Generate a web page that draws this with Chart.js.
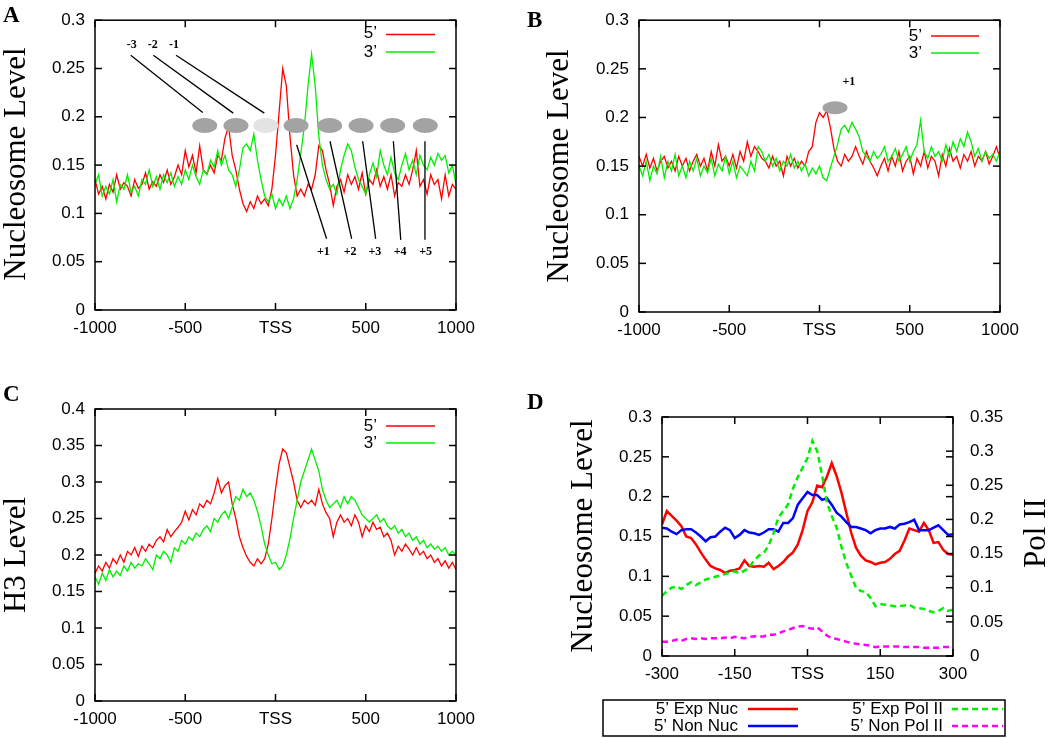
<!DOCTYPE html>
<html>
<head>
<meta charset="utf-8">
<script src="https://cdn.jsdelivr.net/npm/chart.js@4.4.1/dist/chart.umd.min.js"></script>
<style>
  body { margin: 0; background: #fff; width: 1050px; height: 738px; position: relative; overflow: hidden; }
  canvas { position: absolute; }
</style>
</head>
<body>
<canvas id="chartA" width="525" height="369" style="left:0;top:0"></canvas>
<canvas id="chartB" width="525" height="369" style="left:525px;top:0"></canvas>
<canvas id="chartC" width="525" height="369" style="left:0;top:369px"></canvas>
<canvas id="chartD" width="525" height="369" style="left:525px;top:369px"></canvas>
<script>
// positions relative to TSS (bp), one value every 20 bp for A-C, every 10 bp for D
var wideStep = 20, wideStart = -1000;
var narrowStep = 10, narrowStart = -300;

// A: nucleosome level, expressed genes
var nucA5 = [0.135,0.12,0.128,0.115,0.13,0.122,0.14,0.125,0.132,0.128,
  0.118,0.135,0.126,0.13,0.142,0.125,0.133,0.128,0.14,0.132,
  0.145,0.13,0.138,0.15,0.14,0.165,0.148,0.16,0.142,0.17,
  0.145,0.141,0.15,0.142,0.16,0.155,0.178,0.19,0.16,0.145,
  0.125,0.11,0.102,0.112,0.105,0.118,0.11,0.115,0.108,0.125,
  0.16,0.205,0.25,0.232,0.18,0.14,0.118,0.125,0.118,0.13,
  0.125,0.14,0.17,0.165,0.145,0.13,0.108,0.128,0.135,0.122,
  0.14,0.13,0.138,0.125,0.142,0.12,0.135,0.13,0.145,0.128,
  0.138,0.125,0.14,0.118,0.132,0.128,0.14,0.13,0.145,0.165,
  0.128,0.135,0.12,0.14,0.13,0.135,0.115,0.14,0.118,0.13,
  0.125];
var nucA3 = [0.13,0.14,0.118,0.128,0.12,0.135,0.112,0.13,0.125,0.14,
  0.122,0.128,0.118,0.135,0.13,0.145,0.128,0.138,0.125,0.14,
  0.132,0.142,0.128,0.138,0.13,0.145,0.135,0.15,0.138,0.13,
  0.145,0.14,0.155,0.148,0.165,0.15,0.16,0.145,0.14,0.128,
  0.145,0.168,0.172,0.165,0.182,0.155,0.135,0.118,0.112,0.12,
  0.105,0.115,0.108,0.118,0.105,0.115,0.135,0.162,0.19,0.232,
  0.265,0.232,0.18,0.15,0.135,0.125,0.13,0.12,0.145,0.16,
  0.172,0.165,0.148,0.135,0.128,0.12,0.14,0.152,0.138,0.165,
  0.15,0.14,0.158,0.142,0.135,0.15,0.162,0.145,0.155,0.14,
  0.16,0.15,0.145,0.158,0.15,0.162,0.155,0.16,0.142,0.15,
  0.13];

// B: nucleosome level, non-expressed genes
var nucB5 = [0.16,0.15,0.162,0.148,0.158,0.145,0.155,0.16,0.148,0.155,
  0.145,0.16,0.15,0.158,0.145,0.155,0.162,0.15,0.158,0.145,
  0.165,0.15,0.172,0.155,0.16,0.15,0.162,0.148,0.165,0.155,
  0.175,0.16,0.17,0.165,0.158,0.155,0.148,0.16,0.15,0.155,
  0.14,0.16,0.15,0.158,0.148,0.155,0.15,0.165,0.17,0.195,
  0.205,0.2,0.207,0.19,0.168,0.155,0.15,0.162,0.155,0.16,
  0.17,0.16,0.152,0.165,0.155,0.148,0.14,0.15,0.158,0.145,
  0.16,0.15,0.165,0.145,0.155,0.16,0.142,0.158,0.15,0.165,
  0.148,0.16,0.155,0.14,0.162,0.15,0.168,0.155,0.16,0.148,
  0.162,0.155,0.165,0.15,0.16,0.155,0.165,0.152,0.16,0.17,
  0.158];
var nucB3 = [0.15,0.14,0.155,0.135,0.15,0.142,0.16,0.138,0.155,0.145,
  0.162,0.14,0.15,0.138,0.155,0.145,0.158,0.14,0.15,0.143,
  0.158,0.14,0.152,0.145,0.16,0.142,0.155,0.138,0.15,0.145,
  0.14,0.155,0.145,0.17,0.165,0.155,0.162,0.15,0.158,0.145,
  0.155,0.15,0.162,0.148,0.155,0.145,0.152,0.14,0.148,0.142,
  0.15,0.138,0.135,0.148,0.16,0.172,0.188,0.192,0.185,0.195,
  0.188,0.18,0.165,0.16,0.155,0.165,0.158,0.162,0.17,0.155,
  0.16,0.168,0.155,0.162,0.17,0.155,0.165,0.172,0.197,0.165,
  0.158,0.17,0.16,0.165,0.155,0.172,0.16,0.175,0.165,0.178,
  0.17,0.185,0.175,0.16,0.168,0.155,0.165,0.158,0.162,0.155,
  0.165];

// C: H3 level
var h3C5 = [0.175,0.185,0.178,0.19,0.182,0.195,0.188,0.2,0.19,0.205,
  0.2,0.21,0.198,0.212,0.205,0.215,0.21,0.22,0.225,0.218,
  0.235,0.225,0.232,0.238,0.245,0.26,0.248,0.262,0.255,0.27,
  0.265,0.275,0.27,0.285,0.305,0.285,0.295,0.3,0.27,0.25,
  0.225,0.21,0.198,0.19,0.185,0.195,0.188,0.195,0.215,0.25,
  0.29,0.325,0.345,0.34,0.32,0.3,0.275,0.265,0.275,0.27,
  0.275,0.268,0.29,0.27,0.258,0.25,0.225,0.245,0.255,0.245,
  0.25,0.24,0.255,0.245,0.225,0.24,0.232,0.245,0.235,0.238,
  0.225,0.23,0.22,0.2,0.212,0.205,0.215,0.208,0.2,0.21,
  0.2,0.205,0.195,0.2,0.19,0.195,0.185,0.192,0.182,0.19,
  0.18];
var h3C3 = [0.17,0.16,0.175,0.165,0.18,0.17,0.178,0.172,0.185,0.178,
  0.19,0.182,0.188,0.185,0.195,0.188,0.18,0.2,0.195,0.205,
  0.2,0.19,0.21,0.205,0.22,0.215,0.225,0.22,0.23,0.225,
  0.235,0.24,0.232,0.25,0.245,0.255,0.26,0.25,0.265,0.28,
  0.275,0.29,0.28,0.285,0.275,0.26,0.24,0.215,0.2,0.188,
  0.19,0.18,0.185,0.2,0.222,0.25,0.275,0.3,0.315,0.33,
  0.345,0.33,0.315,0.29,0.275,0.265,0.27,0.275,0.265,0.28,
  0.27,0.28,0.275,0.265,0.255,0.25,0.245,0.25,0.255,0.245,
  0.25,0.24,0.235,0.24,0.23,0.235,0.225,0.23,0.22,0.225,
  0.215,0.22,0.21,0.215,0.208,0.212,0.205,0.21,0.2,0.205,
  0.2];

// D: nucleosome (left axis) and Pol II (right axis), -300..300
var expNuc = [0.165,0.182,0.176,0.17,0.163,0.15,0.148,0.14,0.13,0.121,
  0.113,0.11,0.108,0.104,0.107,0.108,0.11,0.12,0.113,0.112,
  0.113,0.112,0.117,0.109,0.113,0.118,0.125,0.13,0.14,0.158,
  0.182,0.193,0.214,0.212,0.225,0.242,0.226,0.205,0.18,0.155,
  0.136,0.126,0.12,0.118,0.115,0.117,0.118,0.122,0.128,0.132,
  0.145,0.16,0.158,0.156,0.167,0.158,0.142,0.143,0.133,0.128,
  0.127];
var nonNuc = [0.161,0.16,0.156,0.153,0.158,0.159,0.159,0.155,0.15,0.144,
  0.149,0.15,0.156,0.161,0.158,0.148,0.152,0.158,0.155,0.154,
  0.152,0.155,0.159,0.159,0.156,0.167,0.167,0.173,0.19,0.198,
  0.206,0.202,0.202,0.196,0.198,0.19,0.18,0.175,0.168,0.162,
  0.162,0.16,0.158,0.154,0.158,0.16,0.16,0.162,0.16,0.165,
  0.166,0.168,0.171,0.158,0.158,0.158,0.161,0.164,0.158,0.152,
  0.153];
var expPol = [0.088,0.095,0.1,0.102,0.098,0.104,0.108,0.104,0.108,0.112,
  0.114,0.116,0.118,0.12,0.122,0.124,0.121,0.125,0.13,0.14,
  0.147,0.151,0.162,0.18,0.203,0.212,0.222,0.245,0.262,0.276,
  0.29,0.315,0.3,0.265,0.225,0.205,0.188,0.16,0.136,0.118,
  0.1,0.095,0.094,0.085,0.073,0.076,0.075,0.074,0.073,0.073,
  0.074,0.075,0.071,0.07,0.069,0.066,0.064,0.066,0.07,0.066,
  0.068];
var nonPol = [0.021,0.021,0.022,0.024,0.022,0.025,0.026,0.025,0.026,0.025,
  0.026,0.026,0.026,0.027,0.026,0.028,0.027,0.026,0.028,0.029,
  0.028,0.029,0.031,0.031,0.033,0.036,0.038,0.041,0.043,0.044,
  0.041,0.04,0.042,0.036,0.03,0.026,0.025,0.023,0.021,0.019,
  0.018,0.017,0.016,0.015,0.013,0.014,0.014,0.014,0.014,0.014,
  0.013,0.013,0.013,0.013,0.012,0.012,0.012,0.012,0.013,0.013,
  0.013];

var SANS = '"Liberation Sans", Arial, Helvetica, sans-serif';
var SERIF = '"Liberation Serif", "Times New Roman", serif';

function toPoints(vals, start, step) {
  return vals.map(function(v, i) { return { x: start + i * step, y: v }; });
}

function tickText(v) {
  if (v === 0) return this.axis === 'x' ? 'TSS' : '0';
  return String(+v.toFixed(3));
}

function xAxis(min, max, step, h) {
  return {
    type: 'linear', min: min, max: max,
    grid: { display: false, drawTicks: false }, border: { display: false },
    ticks: { stepSize: step, autoSkip: false, maxRotation: 0, padding: 8, color: '#000',
             font: { family: SANS, size: 17 }, callback: tickText },
    afterFit: function(s) { s.height = h; }
  };
}

function yAxis(max, w, pos, pad) {
  return {
    type: 'linear', position: pos, min: 0, max: max,
    grid: { display: false, drawTicks: false }, border: { display: false },
    ticks: { stepSize: 0.05, padding: pad, color: '#000',
             font: { family: SANS, size: 17 }, callback: tickText },
    afterFit: function(s) { s.width = w; }
  };
}

// gnuplot look: boxed frame, inward ticks, rotated serif titles, key
var gnuPlot = {
  id: 'gnu',
  afterDatasetsDraw: function(chart, args, o) {
    var ctx = chart.ctx, sx = chart.scales.x, sy = chart.scales.y;
    ctx.save();
    (o.ovals || []).forEach(function(e) {
      ctx.fillStyle = e.c;
      ctx.beginPath();
      ctx.ellipse(sx.getPixelForValue(e.x), sy.getPixelForValue(e.y), e.w / 2, e.h / 2, 0, 0, 2 * Math.PI);
      ctx.fill();
    });
    ctx.strokeStyle = '#000';
    ctx.lineWidth = 1.3;
    ctx.fillStyle = '#000';
    ctx.font = 'bold 12px ' + SERIF;
    ctx.textAlign = 'center';
    ctx.textBaseline = 'middle';
    (o.pointers || []).forEach(function(p) {
      if (p.line) {
        ctx.beginPath();
        ctx.moveTo(sx.getPixelForValue(p.line[0]), sy.getPixelForValue(p.line[1]));
        ctx.lineTo(sx.getPixelForValue(p.line[2]), sy.getPixelForValue(p.line[3]));
        ctx.stroke();
      }
      ctx.fillText(p.text, sx.getPixelForValue(p.x), sy.getPixelForValue(p.y));
    });
    ctx.restore();
  },
  afterDraw: function(chart, args, o) {
    var ctx = chart.ctx, a = chart.chartArea, sx = chart.scales.x, sy = chart.scales.y, sy2 = chart.scales.y2;
    var tl = 7;
    ctx.save();
    ctx.strokeStyle = '#000';
    ctx.lineWidth = 1.5;
    function seg(x1, y1, x2, y2) { ctx.beginPath(); ctx.moveTo(x1, y1); ctx.lineTo(x2, y2); ctx.stroke(); }
    ctx.strokeRect(a.left, a.top, a.right - a.left, a.bottom - a.top);
    sx.ticks.forEach(function(t) {
      var p = sx.getPixelForValue(t.value);
      seg(p, a.bottom, p, a.bottom - tl); seg(p, a.top, p, a.top + tl);
    });
    sy.ticks.forEach(function(t) {
      var p = sy.getPixelForValue(t.value);
      seg(a.left, p, a.left + tl, p); seg(a.right, p, a.right - tl, p);
    });
    if (sy2) sy2.ticks.forEach(function(t) {
      var p = sy2.getPixelForValue(t.value);
      seg(a.right, p, a.right - tl, p);
    });

    // axis titles, rotated
    ctx.fillStyle = '#000';
    ctx.textAlign = 'center';
    ctx.textBaseline = 'alphabetic';
    ctx.font = '31px ' + SERIF;
    (o.titles || []).forEach(function(t) {
      ctx.save();
      ctx.translate(t.x, t.y);
      ctx.rotate(-Math.PI / 2);
      ctx.fillText(t.text, 0, 0);
      ctx.restore();
    });

    // panel letter
    ctx.textAlign = 'left';
    ctx.font = 'bold 23px ' + SERIF;
    ctx.fillText(o.letter.text, o.letter.x, o.letter.y);

    // key
    var key = o.key;
    if (key.box) {
      ctx.lineWidth = 1.5;
      ctx.strokeRect(key.box[0], key.box[1], key.box[2] - key.box[0], key.box[3] - key.box[1]);
    }
    ctx.font = '17px ' + SANS;
    ctx.textAlign = 'right';
    ctx.textBaseline = 'middle';
    key.items.forEach(function(it) {
      var ds = chart.data.datasets[it.ds];
      ctx.fillStyle = '#000';
      ctx.fillText(ds.label, it.tx, it.ty);
      ctx.strokeStyle = ds.borderColor;
      ctx.lineWidth = ds.borderWidth;
      ctx.setLineDash(ds.borderDash || []);
      seg(it.lx1, it.ly, it.lx2, it.ly);
      ctx.setLineDash([]);
    });
    ctx.restore();
  }
};

function lineSet(label, vals, start, step, color, width, order, extra) {
  var ds = {
    label: label, data: toPoints(vals, start, step),
    borderColor: color, borderWidth: width, pointRadius: 0, tension: 0, fill: false, order: order
  };
  for (var k in extra) ds[k] = extra[k];
  return ds;
}

function makePanel(id, datasets, scales, padding, gnu) {
  return new Chart(document.getElementById(id), {
    type: 'line',
    data: { datasets: datasets },
    options: {
      responsive: false, animation: false, devicePixelRatio: 1,
      layout: { padding: padding },
      plugins: { legend: { display: false }, tooltip: { enabled: false }, gnu: gnu },
      scales: scales
    },
    plugins: [gnuPlot]
  });
}

var ovalGrey = '#a3a3a3', ovalPale = '#e3e3e3';

makePanel('chartA',
  [lineSet('5\u2019', nucA5, wideStart, wideStep, '#ff0000', 1.3, 1),
   lineSet('3\u2019', nucA3, wideStart, wideStep, '#00ee00', 1.3, 0)],
  { x: xAxis(-1000, 1000, 500, 59), y: yAxis(0.3, 95, 'left', 10) },
  { top: 18, right: 69, left: 0, bottom: 0 },
  {
    letter: { text: 'A', x: 3, y: 22 },
    titles: [{ text: 'Nucleosome Level', x: 25, y: 164 }],
    key: { items: [{ ds: 0, tx: 377, ty: 33, lx1: 386, lx2: 435, ly: 34.5 },
                   { ds: 1, tx: 377, ty: 52, lx1: 386, lx2: 435, ly: 52 }] },
    ovals: [
      { x: -392, y: 0.191, w: 25, h: 15, c: ovalGrey },
      { x: -219, y: 0.191, w: 25, h: 15, c: ovalGrey },
      { x: -54, y: 0.191, w: 25, h: 15, c: ovalPale },
      { x: 114, y: 0.191, w: 25, h: 15, c: ovalGrey },
      { x: 300, y: 0.191, w: 25, h: 15, c: ovalGrey },
      { x: 474, y: 0.191, w: 25, h: 15, c: ovalGrey },
      { x: 649, y: 0.191, w: 25, h: 15, c: ovalGrey },
      { x: 830, y: 0.191, w: 25, h: 15, c: ovalGrey }
    ],
    pointers: [
      { text: '-3', x: -797, y: 0.274, line: [-802, 0.2637, -403, 0.2045] },
      { text: '-2', x: -680, y: 0.274, line: [-677, 0.2637, -234, 0.2038] },
      { text: '-1', x: -562, y: 0.274, line: [-551, 0.2637, -62, 0.2038] },
      { text: '+1', x: 265, y: 0.06, line: [117, 0.171, 283, 0.0737] },
      { text: '+2', x: 413, y: 0.06, line: [302, 0.1747, 422, 0.0737] },
      { text: '+3', x: 551, y: 0.06, line: [483, 0.1747, 555, 0.0737] },
      { text: '+4', x: 690, y: 0.06, line: [653, 0.1747, 694, 0.0726] },
      { text: '+5', x: 832, y: 0.06, line: [828, 0.1747, 828, 0.0726] }
    ]
  });

makePanel('chartB',
  [lineSet('5\u2019', nucB5, wideStart, wideStep, '#ff0000', 1.3, 1),
   lineSet('3\u2019', nucB3, wideStart, wideStep, '#00ee00', 1.3, 0)],
  { x: xAxis(-1000, 1000, 500, 57), y: yAxis(0.3, 114, 'left', 10) },
  { top: 20, right: 50, left: 0, bottom: 0 },
  {
    letter: { text: 'B', x: 2, y: 27 },
    titles: [{ text: 'Nucleosome Level', x: 43, y: 166 }],
    key: { items: [{ ds: 0, tx: 397, ty: 36, lx1: 406, lx2: 454, ly: 36 },
                   { ds: 1, tx: 397, ty: 53, lx1: 406, lx2: 454, ly: 53 }] },
    ovals: [{ x: 86, y: 0.21, w: 25, h: 13, c: ovalGrey }],
    pointers: [{ text: '+1', x: 163, y: 0.237 }]
  });

makePanel('chartC',
  [lineSet('5\u2019', h3C5, wideStart, wideStep, '#ff0000', 1.3, 1),
   lineSet('3\u2019', h3C3, wideStart, wideStep, '#00ee00', 1.3, 0)],
  { x: xAxis(-1000, 1000, 500, 37), y: yAxis(0.4, 95, 'left', 10) },
  { top: 40, right: 69, left: 0, bottom: 0 },
  {
    letter: { text: 'C', x: 3, y: 32 },
    titles: [{ text: 'H3 Level', x: 25, y: 186 }],
    key: { items: [{ ds: 0, tx: 377, ty: 57, lx1: 386, lx2: 435, ly: 57 },
                   { ds: 1, tx: 377, ty: 74, lx1: 386, lx2: 435, ly: 74 }] }
  });

makePanel('chartD',
  [lineSet('5\u2019 Exp Nuc', expNuc, narrowStart, narrowStep, '#ff0000', 2.5, 3),
   lineSet('5\u2019 Non Nuc', nonNuc, narrowStart, narrowStep, '#0000ff', 2.5, 2),
   lineSet('5\u2019 Exp Pol II', expPol, narrowStart, narrowStep, '#00ee00', 2.5, 1, { yAxisID: 'y2', borderDash: [6, 4] }),
   lineSet('5\u2019 Non Pol II', nonPol, narrowStart, narrowStep, '#ff00ff', 2.5, 0, { yAxisID: 'y2', borderDash: [6, 4] })],
  { x: xAxis(-300, 300, 150, 82), y: yAxis(0.3, 137, 'left', 10), y2: yAxis(0.35, 97, 'right', 17) },
  { top: 48, right: 0, left: 0, bottom: 0 },
  {
    letter: { text: 'D', x: 2, y: 40 },
    titles: [{ text: 'Nucleosome Level', x: 67, y: 167 }, { text: 'Pol II', x: 520, y: 164 }],
    key: {
      box: [78, 331, 480, 367],
      items: [{ ds: 0, tx: 213, ty: 340, lx1: 223, lx2: 273, ly: 340 },
              { ds: 1, tx: 213, ty: 357, lx1: 223, lx2: 273, ly: 357 },
              { ds: 2, tx: 418, ty: 340, lx1: 427, lx2: 478, ly: 340 },
              { ds: 3, tx: 418, ty: 357, lx1: 427, lx2: 478, ly: 357 }]
    }
  });
</script>
</body>
</html>
